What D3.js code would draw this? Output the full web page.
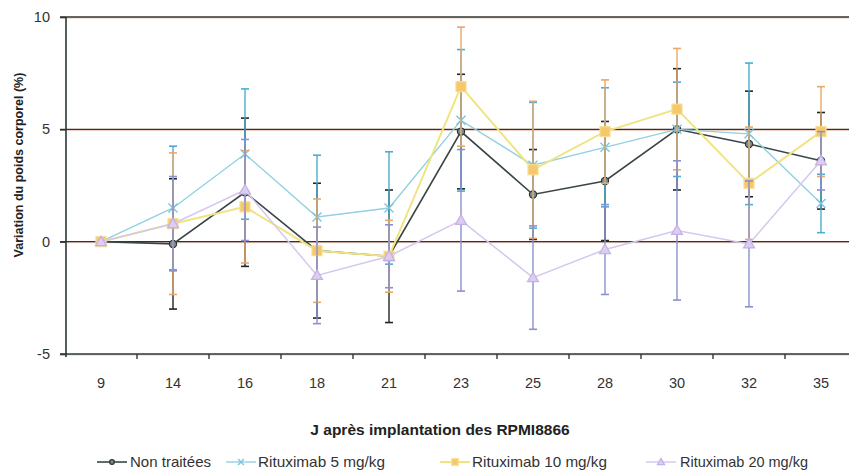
<!DOCTYPE html>
<html><head><meta charset="utf-8">
<script src="https://cdn.jsdelivr.net/npm/d3@7/dist/d3.min.js"></script>
<style>html,body{margin:0;padding:0;background:#fff;}svg{display:block;font-family:"Liberation Sans",Arial,sans-serif;}</style>
</head><body>
<svg id="c" width="849" height="472"></svg>
<script>
const days = ["9","14","16","18","21","23","25","28","30","32","35"];
const yTicks = [-5, 0, 5, 10];
const seriesNames = ["Non traitées","Rituximab 5 mg/kg","Rituximab 10 mg/kg","Rituximab 20 mg/kg"];
const nonTraitees   = [0, -0.1, 2.2, -0.4, -0.65, 4.9, 2.1, 2.7, 5.0, 4.35, 3.6];
const nonTraiteesErr= [0, 2.9, 3.3, 3.0, 2.95, 2.55, 2.0, 2.65, 2.7, 2.35, 2.15];
const ritux5        = [0, 1.5, 3.9, 1.1, 1.5, 5.4, 3.4, 4.2, 5.0, 4.8, 1.7];
const ritux5Err     = [0, 2.75, 2.9, 2.75, 2.5, 3.15, 2.8, 2.65, 2.1, 3.15, 1.3];
const ritux10       = [0, 0.8, 1.55, -0.4, -0.65, 6.9, 3.2, 4.9, 5.9, 2.6, 4.9];
const ritux10Err    = [0, 3.15, 2.5, 2.3, 1.6, 2.65, 3.05, 2.3, 2.7, 2.5, 2.0];
const ritux20       = [0, 0.8, 2.3, -1.5, -0.65, 0.95, -1.6, -0.35, 0.5, -0.1, 3.6];
const ritux20Err    = [0, 2.1, 2.25, 2.15, 1.4, 3.15, 2.3, 2.0, 3.1, 2.8, 1.3];

const svg = d3.select("#c");
const x = d3.scaleBand().domain(days).range([65, 857]).padding(0);
const cx = d => x(d) + x.bandwidth()/2;
const y = d3.scaleLinear().domain([-5, 10]).range([354, 17]);

// gridlines
const grid = svg.append("g");
yTicks.forEach(t => {
  grid.append("line").attr("x1",60).attr("x2",849).attr("y1",y(t)+1).attr("y2",y(t)+1)
    .attr("stroke","#f2c4b0").attr("stroke-width",1);
  grid.append("line").attr("x1",60).attr("x2",849).attr("y1",y(t)).attr("y2",y(t))
    .attr("stroke","#2a3838").attr("stroke-width",1.4);
});
// y axis
const yAxis = d3.axisLeft(y).tickValues(yTicks).tickSize(6).tickPadding(10).tickFormat(d => String(d));
const yg = svg.append("g").attr("transform","translate(66,0)").call(yAxis);
yg.select(".domain").attr("stroke","#2a3838").attr("stroke-width",1.6).attr("d","M0,17V357");
yg.selectAll(".tick line").attr("stroke","#2a3838").attr("stroke-width",1.4);
yg.selectAll(".tick text").attr("font-size","14.5px").attr("fill","#333").attr("font-family","Liberation Sans, Arial");
// x axis
const xAxis = d3.axisBottom(x).tickSize(0).tickPadding(24);
const xg = svg.append("g").attr("transform","translate(0,354)").call(xAxis);
xg.select(".domain").remove();
xg.selectAll(".tick text").attr("font-size","14.5px").attr("fill","#333").attr("font-family","Liberation Sans, Arial");
svg.append("g").selectAll("line").data(days.slice(1)).join("line")
  .attr("x1",d=>x(d)).attr("x2",d=>x(d)).attr("y1",354).attr("y2",359)
  .attr("stroke","#2a3838").attr("stroke-width",1.4);

// titles
svg.append("text").attr("transform","translate(23,165) rotate(-90)").attr("text-anchor","middle")
  .attr("font-size","12.5px").attr("font-weight","bold").attr("fill","#222")
  .text("Variation du poids corporel (%)");
svg.append("text").attr("x",440).attr("y",435).attr("text-anchor","middle")
  .attr("font-size","15.5px").attr("font-weight","bold").attr("fill","#222")
  .text("J après implantation des RPMI8866");

const series = [
  {name:seriesNames[0], v:nonTraitees, e:nonTraiteesErr, line:"#3a4545", lw:1.6, err:"#1e2626", mk:"circle", fill:"#808a8a", mstroke:"#2a3434"},
  {name:seriesNames[1], v:ritux5, e:ritux5Err, line:"#92d0e2", lw:1.4, err:"#4aaed2", mk:"x", fill:"none", mstroke:"#7cc4dc"},
  {name:seriesNames[2], v:ritux10, e:ritux10Err, line:"#f0e482", lw:2, err:"#e8a868", mk:"square", fill:"#f6c86c", mstroke:"#f8dc90"},
  {name:seriesNames[3], v:ritux20, e:ritux20Err, line:"#d4c8ee", lw:1.5, err:"#8a90d2", mk:"triangle", fill:"#dccdf2", mstroke:"#c4b0e4"}
];

function marker(g, type, px, py, s, k) {
  k = k || 1;
  if (type==="circle") g.append("circle").attr("cx",px).attr("cy",py).attr("r",3.6*k).attr("fill",s.fill).attr("stroke",s.mstroke).attr("stroke-width",1.2);
  else if (type==="x") { const a=4.5*k; g.append("path").attr("d",`M${px-a},${py-a}L${px+a},${py+a}M${px-a},${py+a}L${px+a},${py-a}`).attr("stroke",s.mstroke).attr("stroke-width",1.4).attr("fill","none"); }
  else if (type==="square") { const a=5*k; g.append("rect").attr("x",px-a).attr("y",py-a).attr("width",2*a).attr("height",2*a).attr("fill",s.fill).attr("stroke",s.mstroke).attr("stroke-width",1.2); }
  else if (type==="triangle") { const a=5.5*k; g.append("path").attr("d",`M${px},${py-a}L${px+a},${py+a*0.73}L${px-a},${py+a*0.73}Z`).attr("fill",s.fill).attr("stroke",s.mstroke).attr("stroke-width",1.2); }
}

const line = d3.line().x((d,i)=>cx(days[i])).y(d=>y(d));
series.forEach(s => {
  const g = svg.append("g");
  s.v.forEach((v,i) => {
    const e = s.e[i]; if (!e) return;
    const px = cx(days[i]);
    g.append("line").attr("x1",px).attr("x2",px).attr("y1",y(v+e)).attr("y2",y(v-e)).attr("stroke",s.err).attr("stroke-width",1.4);
    [v+e, v-e].forEach(t => g.append("line").attr("x1",px-4).attr("x2",px+4).attr("y1",y(t)).attr("y2",y(t)).attr("stroke",s.err).attr("stroke-width",1.6));
  });
  g.append("path").datum(s.v).attr("d",line).attr("fill","none").attr("stroke",s.line).attr("stroke-width",s.lw);
  s.v.forEach((v,i) => marker(g, s.mk, cx(days[i]), y(v), s));
});

// legend
const legPos = [{lx:97, tx:130, tw:81},{lx:226, tx:258, tw:127},{lx:440, tx:472, tw:135},{lx:646, tx:680, tw:128}];
series.forEach((s,i) => {
  const p = legPos[i], ly = 462;
  const g = svg.append("g");
  g.append("line").attr("x1",p.lx).attr("x2",p.lx+30).attr("y1",ly).attr("y2",ly).attr("stroke",s.line).attr("stroke-width",s.lw);
  marker(g, s.mk, p.lx+15, ly, s, 0.65);
  g.append("text").attr("x",p.tx).attr("y",ly+5).attr("font-size","15px").attr("fill","#333")
    .attr("font-family","Liberation Sans Narrow, Arial Narrow, Liberation Sans, Arial")
    .attr("textLength",p.tw).attr("lengthAdjust","spacingAndGlyphs").text(s.name);
});
</script>
</body></html>
